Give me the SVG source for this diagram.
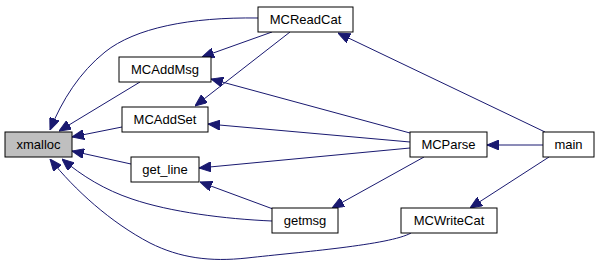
<svg xmlns="http://www.w3.org/2000/svg" width="600" height="264" viewBox="0 0 600 264">
  <style>
    .node rect { fill: #ffffff; stroke: #000000; stroke-width: 1; }
    .node.root rect { fill: #bfbfbf; }
    .node text { font-family: "Liberation Sans", Arial, sans-serif; font-size: 13px; fill: #000000; text-anchor: middle; }
    .edge { fill: none; stroke: #191970; stroke-width: 1; marker-end: url(#arrow); }
  </style>
  <defs>
    <marker id="arrow" viewBox="0 0 12 10" refX="12" refY="5" markerWidth="12" markerHeight="10" markerUnits="userSpaceOnUse" orient="auto">
      <path d="M0,0 L12,5 L0,10 z" fill="#191970" stroke="#191970"/>
    </marker>
  </defs>
  <rect width="600" height="264" fill="#ffffff"/>

  <g id="edges">
    <!-- callers of xmalloc -->
    <path class="edge" d="M258,18 C190,17 135,28 105,52 C80,72 62,100 50,130"/>
    <path class="edge" d="M140,82 L59,131"/>
    <path class="edge" d="M122,127 L72,137"/>
    <path class="edge" d="M131,164 L72,151"/>
    <path class="edge" d="M272,221 C225,219 170,212 132,199 C105,190 82,176 62,159"/>
    <path class="edge" d="M411,233 C390,245 300,252 247,258 C210,262 180,258 150,243 C110,222 75,190 50,159"/>
    <!-- MCReadCat -->
    <path class="edge" d="M272,32 L202,57"/>
    <path class="edge" d="M290,32 L195,106"/>
    <!-- MCParse -->
    <path class="edge" d="M410,133 L211,79"/>
    <path class="edge" d="M410,142 L208,124"/>
    <path class="edge" d="M410,148 L199,168"/>
    <path class="edge" d="M424,157 L332,208"/>
    <!-- getmsg -->
    <path class="edge" d="M273,209 L200,182"/>
    <!-- main -->
    <path class="edge" d="M545,132 L338,33"/>
    <path class="edge" d="M543,145 L487,145"/>
    <path class="edge" d="M549,157 L470,208"/>
  </g>

  <g id="xmalloc" class="node root">
    <rect x="5" y="132" width="67" height="25"/>
    <text x="38.5" y="148.5">xmalloc</text>
  </g>
  <g id="MCReadCat" class="node">
    <rect x="258" y="7" width="95" height="25"/>
    <text x="305.5" y="23.5">MCReadCat</text>
  </g>
  <g id="MCAddMsg" class="node">
    <rect x="119" y="57" width="92" height="25"/>
    <text x="165" y="73.5">MCAddMsg</text>
  </g>
  <g id="MCAddSet" class="node">
    <rect x="122" y="107" width="86" height="25"/>
    <text x="165" y="123.5">MCAddSet</text>
  </g>
  <g id="get_line" class="node">
    <rect x="131" y="157" width="68" height="25"/>
    <text x="165" y="173.5">get_line</text>
  </g>
  <g id="getmsg" class="node">
    <rect x="272" y="208" width="66" height="25"/>
    <text x="305" y="224.5">getmsg</text>
  </g>
  <g id="MCParse" class="node">
    <rect x="410" y="132" width="77" height="25"/>
    <text x="448.5" y="148.5">MCParse</text>
  </g>
  <g id="main" class="node">
    <rect x="543" y="132" width="51" height="25"/>
    <text x="568.5" y="148.5">main</text>
  </g>
  <g id="MCWriteCat" class="node">
    <rect x="401" y="208" width="96" height="25"/>
    <text x="449" y="224.5">MCWriteCat</text>
  </g>
</svg>
